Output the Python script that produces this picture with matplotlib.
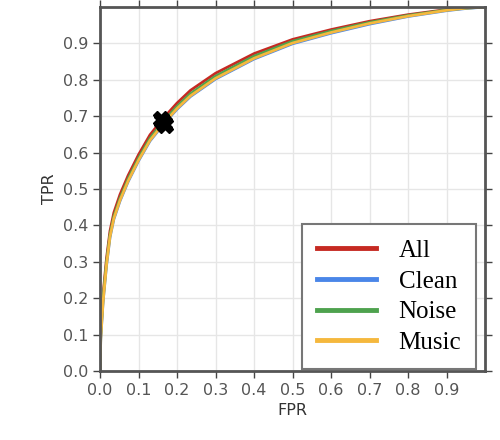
import numpy as np
import matplotlib.pyplot as plt

# ROC curve points
fpr = [0, 0.002, 0.008, 0.017, 0.026, 0.036, 0.052, 0.073, 0.1, 0.13, 0.165,
       0.2, 0.235, 0.3, 0.4, 0.5, 0.6, 0.7, 0.8, 0.9, 0.95, 1.0]
tpr_all = [0, 0.11, 0.21, 0.31, 0.385, 0.435, 0.485, 0.537, 0.594, 0.649, 0.695,
           0.736, 0.771, 0.818, 0.872, 0.911, 0.938, 0.961, 0.979, 0.993, 0.998, 1.0]
tpr_clean = [0, 0.09, 0.19, 0.29, 0.367, 0.417, 0.467, 0.52, 0.577, 0.632, 0.678,
             0.719, 0.754, 0.802, 0.857, 0.899, 0.928, 0.953, 0.974, 0.99, 0.996, 1.0]
tpr_noise = [0, 0.10, 0.20, 0.30, 0.375, 0.425, 0.475, 0.528, 0.585, 0.64, 0.686,
             0.727, 0.762, 0.81, 0.865, 0.906, 0.934, 0.958, 0.977, 0.992, 0.997, 1.0]
tpr_music = [0, 0.09, 0.19, 0.292, 0.369, 0.419, 0.469, 0.522, 0.579, 0.634, 0.68,
             0.721, 0.756, 0.804, 0.859, 0.901, 0.93, 0.955, 0.975, 0.991, 0.997, 1.0]

# operating points (x marks)
op_fpr = [0.158, 0.162, 0.166, 0.17]
op_tpr = [0.692, 0.687, 0.682, 0.677]

labels = ['All', 'Clean', 'Noise', 'Music']
colors = ['#c62a22', '#4a86e8', '#4ea24e', '#f5b83d']

fig = plt.figure(figsize=(5, 4.4), dpi=100)
ax = fig.add_axes([0.2, 0.157, 0.77, 0.827])

for tpr, lab, c in zip([tpr_all, tpr_clean, tpr_noise, tpr_music], labels, colors):
    ax.plot(fpr, tpr, color=c, lw=2, label=lab)

ax.plot(op_fpr, op_tpr, 'X', color='black', ms=12, ls='none')

ax.set_xlim(0, 1)
ax.set_ylim(0, 1)
ticks = np.arange(0, 1.0, 0.1)
ax.set_xticks(ticks)
ax.set_yticks(ticks)
ax.set_xticklabels([f'{t:.1f}' for t in ticks])
ax.set_yticklabels([f'{t:.1f}' for t in ticks])
ax.grid(color='#e6e6e6', lw=1)
ax.set_axisbelow(True)
ax.tick_params(direction='out', length=5, width=1, colors='#444444',
               labelcolor='#555555', labelsize=11.5, top=True, right=True,
               labeltop=False, labelright=False)
for s in ax.spines.values():
    s.set_color('#555555')
    s.set_linewidth(2)

ax.set_xlabel('FPR', fontsize=11.5, color='#333333')
ax.set_ylabel('TPR', fontsize=11.5, color='#333333')

leg = ax.legend(loc='lower right', bbox_to_anchor=(0.977, 0.005),
                prop={'family': 'Liberation Serif', 'size': 18},
                fancybox=False, edgecolor='#777777', handlelength=2.35,
                borderpad=0.6, labelspacing=0.33, handletextpad=0.9,
                borderaxespad=0, framealpha=1)
for line in leg.get_lines():
    line.set_linewidth(3.5)
leg.get_frame().set_linewidth(1.5)

fig.savefig('out.png')
